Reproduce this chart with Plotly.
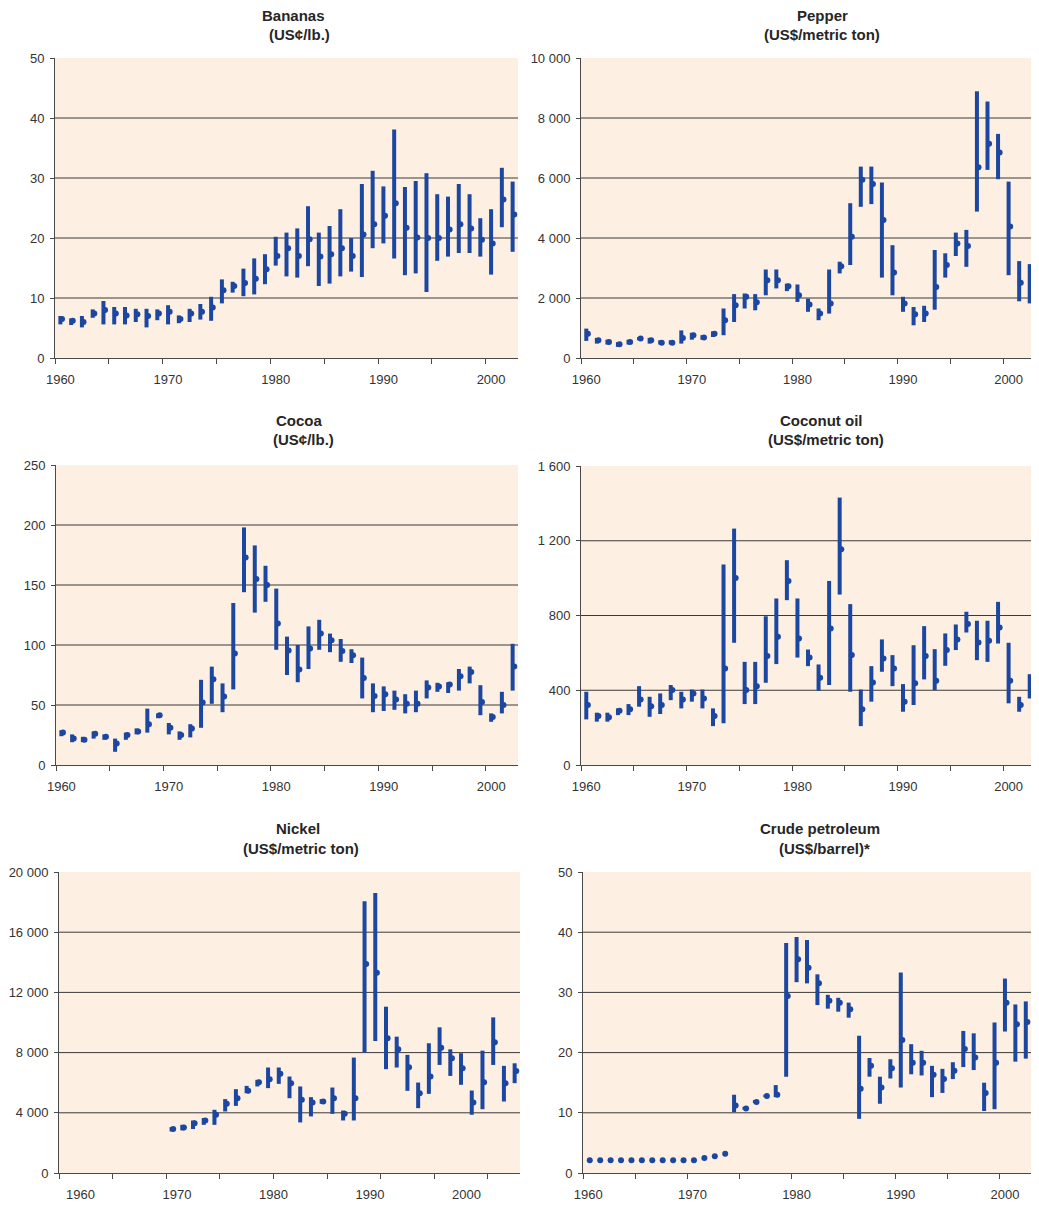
import plotly.graph_objects as go

years = list(range(1960, 2003))

# ---------------- data ----------------
banana_high = [7.0, 6.6, 7.0, 8.1, 9.5, 8.5, 8.5, 8.2, 8.2, 8.1, 8.8, 7.1, 8.2, 9.0, 10.2, 13.1, 12.7, 14.9, 16.6, 17.3,
               20.2, 20.9, 21.6, 25.3, 20.9, 22.0, 24.8, 20.0, 29.0, 31.2, 28.6, 38.1, 28.5, 29.5, 30.8, 27.3, 26.9, 29.0,
               27.3, 23.3, 24.8, 31.7, 29.4]
banana_low = [5.6, 5.5, 5.1, 6.7, 5.6, 5.6, 5.6, 6.0, 5.1, 6.3, 5.6, 5.8, 6.0, 6.4, 6.2, 9.1, 10.9, 10.3, 10.6, 12.3,
              15.4, 13.6, 13.4, 15.3, 12.0, 12.4, 13.6, 14.4, 13.5, 18.3, 19.1, 16.6, 13.8, 14.1, 11.0, 16.2, 16.9, 17.5,
              17.5, 16.9, 13.9, 21.8, 17.7]
banana_avg = [6.5, 6.2, 6.0, 7.4, 8.0, 7.4, 7.1, 7.3, 7.0, 7.4, 7.7, 6.5, 7.4, 7.7, 8.4, 11.3, 12.0, 12.5, 13.2, 14.8,
              17.0, 18.3, 17.0, 19.8, 16.9, 17.3, 18.3, 17.0, 20.6, 22.3, 23.7, 25.8, 21.7, 20.1, 20.0, 20.0, 21.4, 22.3,
              21.6, 19.7, 19.1, 26.4, 23.9]

pepper_high = [980, 670, 610, 530, 610, 700, 670, 590, 590, 920, 840, 760, 890, 1650, 2130, 2150, 2130, 2950, 2950,
               2480, 2450, 1980, 1650, 2950, 3210, 5160, 6380, 6380, 5850, 3760, 2040, 1700, 1740, 3600, 3490, 4180,
               4270, 8890, 8550, 7470, 5880, 3230, 3130]
pepper_low = [570, 480, 450, 370, 450, 590, 480, 450, 450, 480, 610, 610, 700, 760, 1200, 1650, 1590, 2090, 2320, 2230,
              1870, 1540, 1260, 1480, 2820, 3100, 5040, 5130, 2680, 2090, 1540, 1090, 1200, 1610, 2680, 3400, 3040,
              4880, 6270, 5960, 2760, 1890, 1820]
pepper_avg = [810, 590, 530, 460, 530, 650, 590, 510, 510, 670, 760, 680, 810, 1260, 1760, 2040, 1860, 2590, 2590,
              2390, 2090, 1780, 1480, 1820, 3060, 4040, 5940, 5800, 4600, 2850, 1820, 1460, 1480, 2370, 3100, 3820,
              3730, 6360, 7140, 6850, 4380, 2510, 2320]

cocoa_high = [29, 25.5, 23.5, 28, 25.5, 22, 27, 30.5, 47, 43, 35, 28, 34, 71, 82, 68, 135, 198, 183, 166, 147, 107, 100,
              115.5, 121, 109.5, 105, 96.5, 89.5, 68, 65.5, 62, 59, 62, 70.5, 68.5, 69, 80, 82, 66.5, 43, 61, 101]
cocoa_low = [24, 19, 19, 22, 21, 11, 21, 25.5, 27, 39, 25.5, 21, 23, 31, 51, 44, 63, 144, 127, 136, 96, 75, 69, 80, 96,
             94, 86, 85, 55.5, 44, 45, 46, 43, 44, 55.5, 61, 60, 62, 68, 41.5, 36, 43, 62]
cocoa_avg = [27, 22, 21, 26, 23.5, 18, 25, 28, 34, 41.5, 31, 25, 30.5, 52, 71.5, 57, 93, 173, 155, 150, 118, 95.5, 79.5,
             97, 109.5, 104, 95, 91.5, 72.5, 57.5, 59, 54.5, 51, 51, 64.5, 65.5, 67, 74, 77.5, 52.5, 40, 50, 82]

coconut_high = [392, 280, 280, 303, 326, 422, 365, 383, 428, 392, 404, 404, 303, 1073, 1265, 552, 552, 796, 891, 1096,
                891, 618, 538, 985, 1431, 861, 404, 529, 672, 588, 433, 641, 743, 620, 704, 752, 820, 772, 772, 873,
                654, 365, 486]
coconut_low = [244, 232, 232, 267, 267, 312, 258, 273, 347, 303, 339, 303, 208, 223, 654, 326, 326, 440, 540, 882, 575,
               529, 397, 428, 912, 392, 208, 339, 499, 422, 285, 321, 458, 401, 531, 615, 709, 561, 552, 650, 330, 285,
               356]
coconut_avg = [321, 262, 255, 290, 298, 351, 315, 321, 401, 351, 383, 356, 262, 517, 1001, 401, 422, 583, 686, 985, 677,
               575, 467, 730, 1155, 588, 298, 442, 570, 517, 339, 437, 583, 451, 615, 672, 754, 656, 665, 736, 451, 321,
               422]

nickel_high = [None] * 10 + [3050, 3200, 3490, 3650, 4200, 4910, 5570, 5790, 6190, 7010, 7010, 6410, 5750, 5040, 4910,
                             5680, 4150, 7670, 18060, 18610, 11050, 9060, 7850, 6010, 8620, 9680, 8220, 7960, 5480,
                             8130, 10340, 7120, 7290]
nickel_low = [None] * 10 + [2760, 2830, 2920, 3200, 3200, 4090, 4460, 5300, 5750, 5640, 5920, 4970, 3360, 3760, 4600,
                            3930, 3490, 3490, 8000, 8770, 6900, 7010, 5460, 4310, 5260, 7180, 6450, 5860, 3870, 4240,
                            7180, 4750, 5970]
nickel_avg = [None] * 10 + [2920, 3030, 3310, 3490, 3870, 4600, 4970, 5460, 6030, 6230, 6590, 5970, 4860, 4690, 4750,
                            4970, 3930, 4970, 13880, 13300, 8950, 8220, 7030, 5300, 6410, 8330, 7620, 6960, 4690, 6030,
                            8680, 5970, 6780]

crude_high = [None] * 14 + [13.0, 11.0, 12.1, 13.0, 14.6, 38.2, 39.2, 38.7, 33.0, 29.6, 29.1, 28.3, 22.8, 19.1, 16.0,
                            18.9, 33.3, 21.4, 20.3, 17.8, 17.3, 18.4, 23.6, 23.2, 15.0, 25.0, 32.3, 28.0, 28.5]
crude_low = [None] * 14 + [10.1, 10.5, 11.6, 12.6, 12.6, 16.0, 31.7, 31.5, 27.9, 27.3, 26.8, 25.8, 9.0, 16.0, 11.5,
                           15.7, 14.2, 16.4, 16.2, 12.6, 13.3, 15.6, 17.6, 17.1, 10.3, 10.6, 23.5, 18.5, 19.0]
crude_avg = [2.1] * 11 + [2.5, 2.8, 3.2, 11.2, 10.7, 11.8, 12.8, 13.0, 29.4, 35.5, 34.1, 31.5, 28.6, 28.3, 27.2, 14.0,
                          17.8, 14.2, 17.4, 22.1, 18.3, 18.3, 16.3, 15.6, 17.0, 20.6, 19.2, 13.3, 18.3, 28.3, 24.7, 25.1]

x_labels = ["1960", "1970", "1980", "1990", "2000"]
x_label_years = [1960, 1970, 1980, 1990, 2000]
nickel_label_pos = [1961.5, 1970.5, 1979.5, 1988.5, 1997.5]

# ---------------- styling ----------------
W, H = 1039, 1206
PAGE_MARGIN = 8  # default body margin of the html page
BLUE = "#1C47A0"
BG = "#FDEFE1"
GRID = "#3A3A3A"
AXIS = "#4A4A4A"
TXT = "#333333"
TITLE = "#262626"
FONT = "Liberation Sans, Arial, sans-serif"


def fx(px):
    return (px - PAGE_MARGIN) / W


def fy(py):
    return 1 - (py - PAGE_MARGIN) / H


charts = [
    dict(name="Bananas", unit="(US¢/lb.)", high=banana_high, low=banana_low, avg=banana_avg,
         ymax=50, dtick=10, px=(55, 518), py=(58, 358), tx=(293, 299), ty=(16, 35), labpos=x_label_years),
    dict(name="Pepper", unit="(US$/metric ton)", high=pepper_high, low=pepper_low, avg=pepper_avg,
         ymax=10000, dtick=2000, px=(581, 1035), py=(58, 358), tx=(822, 822), ty=(16, 35), labpos=x_label_years),
    dict(name="Cocoa", unit="(US¢/lb.)", high=cocoa_high, low=cocoa_low, avg=cocoa_avg,
         ymax=250, dtick=50, px=(56, 518), py=(465, 765), tx=(299, 303), ty=(421, 440), labpos=x_label_years),
    dict(name="Coconut oil", unit="(US$/metric ton)", high=coconut_high, low=coconut_low, avg=coconut_avg,
         ymax=1600, dtick=400, px=(581, 1035), py=(466, 765), tx=(821, 826), ty=(421, 440), labpos=x_label_years),
    dict(name="Nickel", unit="(US$/metric ton)", high=nickel_high, low=nickel_low, avg=nickel_avg,
         ymax=20000, dtick=4000, px=(59, 520), py=(872, 1173), tx=(298, 301), ty=(828, 848),
         labpos=nickel_label_pos),
    dict(name="Crude petroleum", unit="(US$/barrel)*", high=crude_high, low=crude_low, avg=crude_avg,
         ymax=50, dtick=10, px=(583, 1031), py=(872, 1173), tx=(820, 824), ty=(828, 848), labpos=x_label_years),
]

fig = go.Figure()
shapes = []
annotations = []

for i, c in enumerate(charts, start=1):
    xa = "x" if i == 1 else f"x{i}"
    ya = "y" if i == 1 else f"y{i}"
    # high-low ranges as vertical segments
    sx, sy = [], []
    for yr, hi, lo in zip(years, c["high"], c["low"]):
        if hi is None or lo is None:
            continue
        sx += [yr, yr, None]
        sy += [lo, hi, None]
    fig.add_trace(go.Scatter(x=sx, y=sy, mode="lines", line=dict(color=BLUE, width=4),
                             xaxis=xa, yaxis=ya, hoverinfo="skip", showlegend=False))
    # average marker (slightly right of the bar, like the original close tick)
    fig.add_trace(go.Scatter(x=[yr + 0.15 for yr in years], y=c["avg"], mode="markers",
                             marker=dict(color=BLUE, size=6), xaxis=xa, yaxis=ya, showlegend=False))

    xdom = [fx(c["px"][0]), fx(c["px"][1])]
    ydom = [fy(c["py"][1]), fy(c["py"][0])]
    xkey = "xaxis" if i == 1 else f"xaxis{i}"
    ykey = "yaxis" if i == 1 else f"yaxis{i}"
    fig.update_layout(**{
        xkey: dict(domain=xdom, anchor=ya, range=[1959.5, 2002.5], showgrid=False, zeroline=False,
                   showline=True, linecolor=AXIS, linewidth=1, automargin=False,
                   tickmode="array", tickvals=c["labpos"], ticktext=x_labels,
                   ticks="outside", ticklen=9, tickcolor="rgba(0,0,0,0)",
                   tickfont=dict(family=FONT, size=13, color=TXT),
                   minor=dict(tickmode="linear", tick0=1959.5, dtick=5, ticks="outside", ticklen=5,
                              tickcolor=AXIS, tickwidth=1, showgrid=False),
                   fixedrange=True),
        ykey: dict(domain=ydom, anchor=xa, range=[0, c["ymax"]], dtick=c["dtick"], tick0=0,
                   showgrid=False, zeroline=False, showline=True, linecolor=AXIS, linewidth=1,
                   ticks="outside", ticklen=4, tickcolor=AXIS, tickformat=",d", automargin=False,
                   ticklabelstandoff=3,
                   tickfont=dict(family=FONT, size=13, color=TXT),
                   fixedrange=True),
    })
    # horizontal grid lines inside the plot (none at the top edge)
    v = c["dtick"]
    while v < c["ymax"]:
        shapes.append(dict(type="line", xref=f"{xa} domain", yref=ya, x0=0, x1=1, y0=v, y1=v,
                           line=dict(color=GRID, width=1), layer="below"))
        v += c["dtick"]
    # background of plotting area
    shapes.append(dict(type="rect", xref=f"{xa} domain", yref=f"{ya} domain", x0=0, x1=1, y0=0, y1=1,
                       fillcolor=BG, line=dict(width=0), layer="below"))
    annotations.append(dict(text=f"<b>{c['name']}</b>", xref="paper", yref="paper",
                            x=fx(c["tx"][0]), y=fy(c["ty"][0]), xanchor="center", yanchor="middle",
                            showarrow=False, font=dict(family=FONT, size=15, color=TITLE)))
    annotations.append(dict(text=f"<b>{c['unit']}</b>", xref="paper", yref="paper",
                            x=fx(c["tx"][1]), y=fy(c["ty"][1]), xanchor="center", yanchor="middle",
                            showarrow=False, font=dict(family=FONT, size=15, color=TITLE)))

# place rectangles first so grid lines are drawn above them
shapes = [s for s in shapes if s["type"] == "rect"] + [s for s in shapes if s["type"] == "line"]

fig.update_layout(width=W, height=H, margin=dict(l=0, r=0, t=0, b=0, autoexpand=False),
                  paper_bgcolor="white", plot_bgcolor="rgba(0,0,0,0)",
                  separators=". ", shapes=shapes, annotations=annotations, showlegend=False)

fig.write_html("out.html")
